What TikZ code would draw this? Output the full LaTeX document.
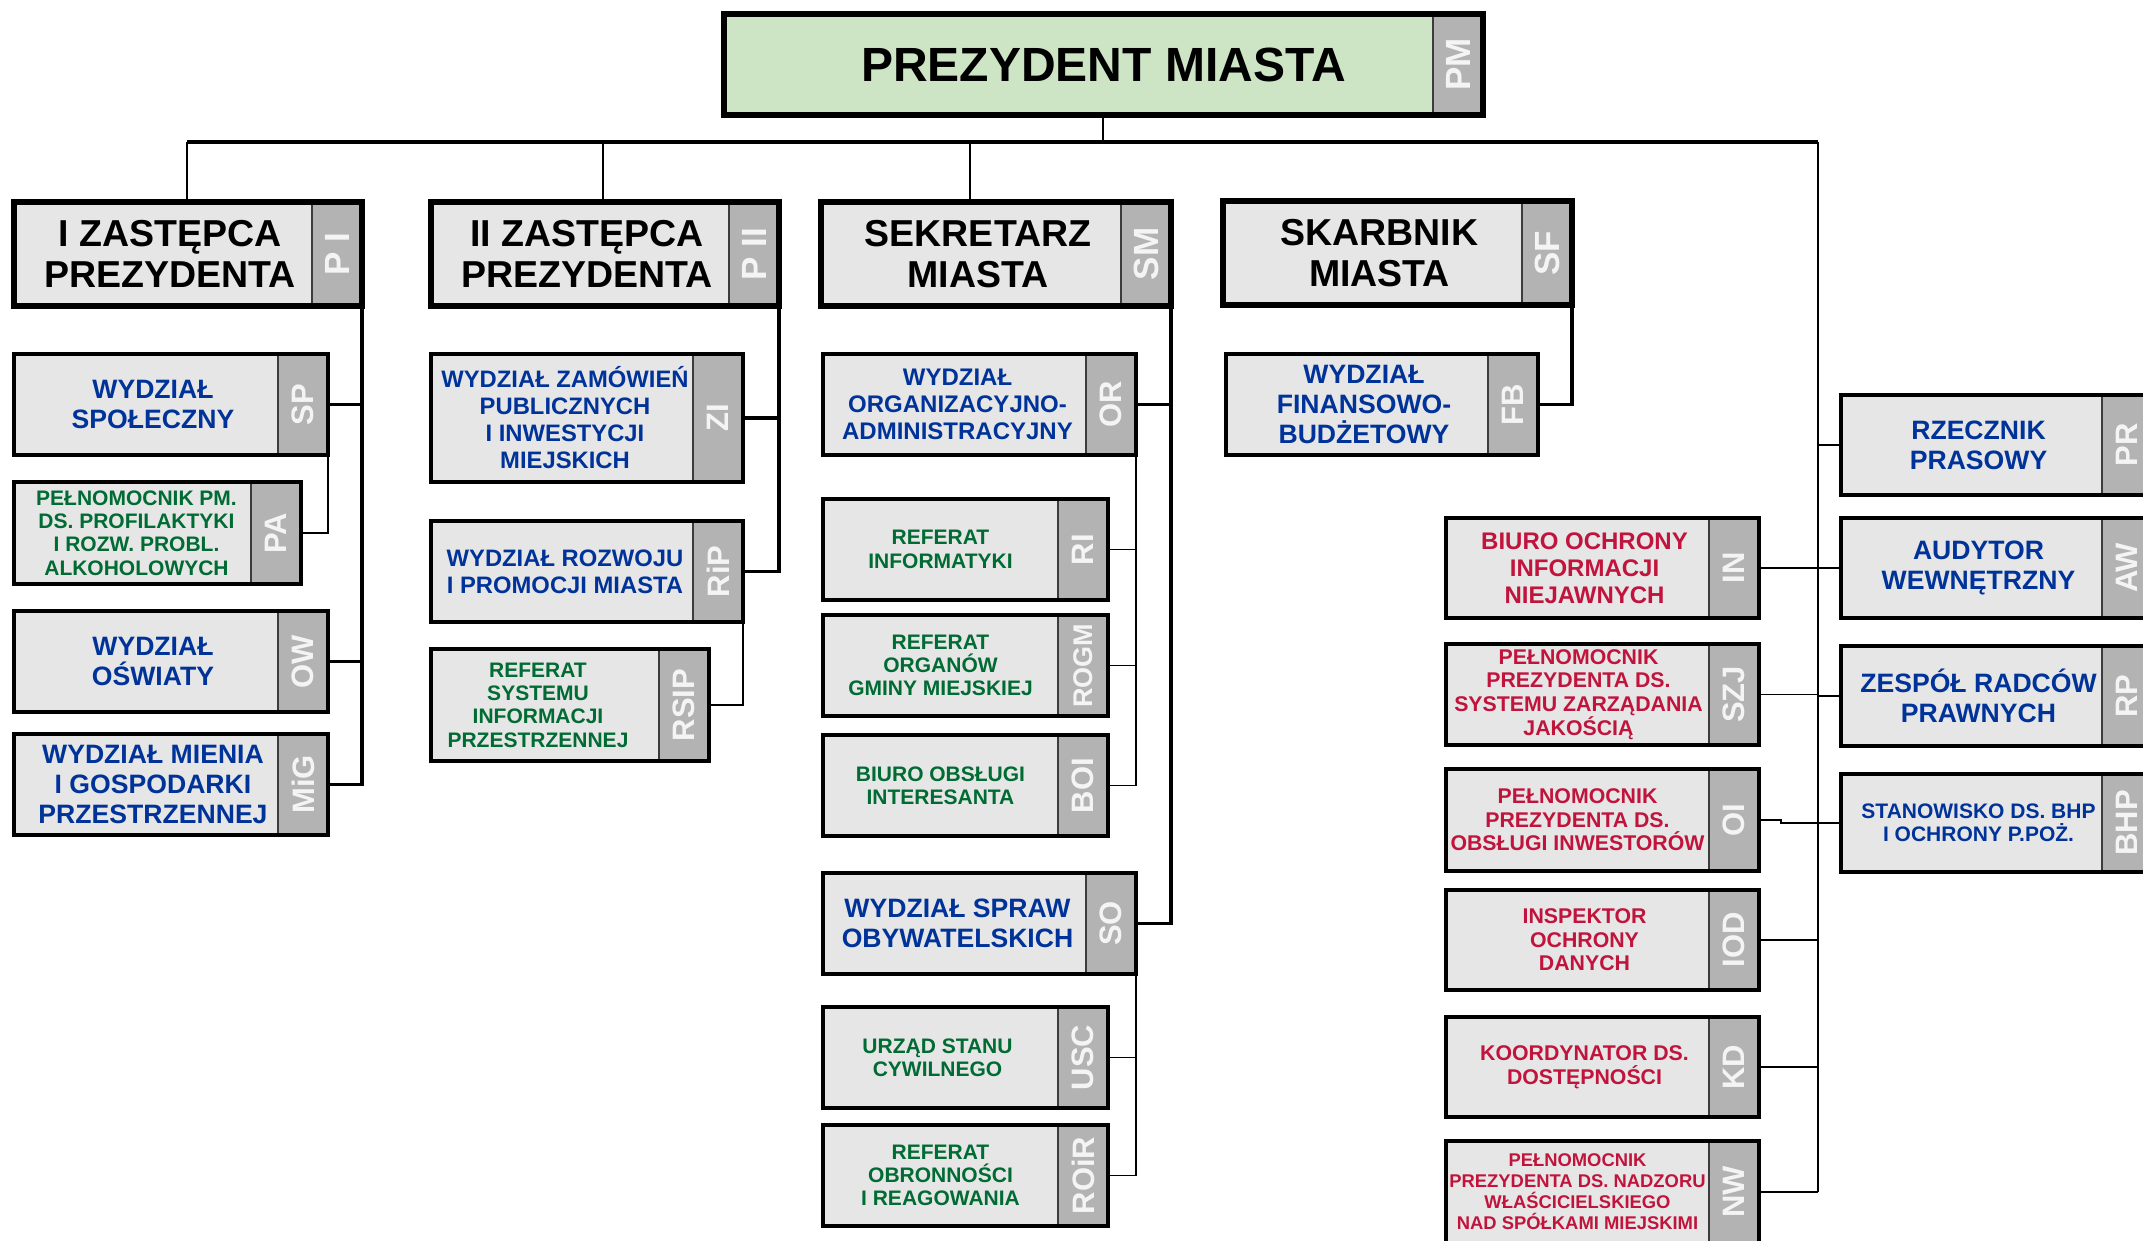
\documentclass[tikz,border=0pt]{standalone}
\usepackage{fontspec}
\setmainfont{Liberation Sans}
\usepackage{graphicx}

\definecolor{boxfill}{HTML}{E6E6E6}
\definecolor{tabgray}{HTML}{B3B3B3}
\definecolor{tabedge}{HTML}{3C3C3C}
\definecolor{tabwhite}{HTML}{F4F4F4}
\definecolor{pmgreen}{HTML}{CDE5C4}
\definecolor{deptblue}{HTML}{003399}
\definecolor{refgreen}{HTML}{006B33}
\definecolor{proxred}{HTML}{C0143C}

\tikzset{
  tshift/.store in=\tshift,
  unit/.style={fill=boxfill, inner sep=0pt, outer sep=0pt, align=center, line width=3.5pt, tshift=0pt},
  head/.style={unit, line width=6pt, text=black, font=\fontsize{37.5}{41}\selectfont\bfseries, tshift=7pt},
  dept/.style={unit, text=deptblue, font=\fontsize{26.6}{30}\selectfont\bfseries, tshift=7pt},
  office/.style={unit, text=refgreen, font=\fontsize{21}{23.3}\selectfont\bfseries},
  proxy/.style={unit, text=proxred, font=\fontsize{21.3}{23.6}\selectfont\bfseries, tshift=7pt},
  frame/.style={draw=black, fill=none},
  tab/.style={fill=tabgray, draw=tabedge, line width=1.5pt, inner sep=0pt, outer sep=0pt,
    minimum width=50pt, text=tabwhite, font=\fontsize{31}{31}\selectfont\bfseries},
  bus/.style={line width=3.5pt},
  drop/.style={line width=2.5pt},
  heavy/.style={line width=3.5pt},
  light/.style={line width=1.8pt}
}

% name, style, x1, y1, x2, y2, tab label, text
\newcommand{\orgunit}[8]{%
  \node[#2, anchor=north west, minimum width={(#5-#3-50)*1pt}, minimum height={(#6-#4)*1pt}] (#1) at (#3,#4) {};
  \node[#2, xshift=\tshift] (#1x) at (#1.center) {#8};
  \node[tab, anchor=north west, minimum height={(#6-#4)*1pt}] (#1t) at (#1.north east) {\rotatebox{90}{#7}};
  \draw[#2, frame] (#1.north west) rectangle (#1t.south east);
}
\newcommand{\tabbig}{\fontsize{35}{35}\selectfont}
\newcommand{\tabsmall}{\fontsize{27}{27}\selectfont}

\begin{document}
\begin{tikzpicture}[x=1pt,y=-1pt]
\useasboundingbox (0,0) rectangle (2143,1240);

% top
\orgunit{PM}{head, fill=pmgreen, font=\fontsize{48}{52}\selectfont\bfseries, tshift=25pt}{724}{14}{1483}{115}{\tabbig PM}{PREZYDENT MIASTA}

% deputies
\orgunit{PI}{head}{14}{202}{362}{306}{\tabbig P I}{I ZASTĘPCA\\PREZYDENTA}
\orgunit{PII}{head}{431}{202}{779}{306}{\tabbig P II}{II ZASTĘPCA\\PREZYDENTA}
\orgunit{SM}{head}{821}{202}{1171}{306}{\tabbig SM}{SEKRETARZ\\MIASTA}
\orgunit{SF}{head}{1223}{201}{1572}{305}{\tabbig SF}{SKARBNIK\\MIASTA}

% I zastepca
\orgunit{SP}{dept}{14}{354}{328}{455}{SP}{WYDZIAŁ\\SPOŁECZNY}
\orgunit{PA}{office, tshift=4pt}{14}{482}{301}{584}{PA}{PEŁNOMOCNIK PM.\\DS. PROFILAKTYKI\\I ROZW. PROBL.\\ALKOHOLOWYCH}
\orgunit{OW}{dept}{14}{611}{328}{712}{OW}{WYDZIAŁ\\OŚWIATY}
\orgunit{MiG}{dept}{14}{734}{328}{835}{MiG}{WYDZIAŁ MIENIA\\I GOSPODARKI\\PRZESTRZENNEJ}

% II zastepca
\orgunit{ZI}{dept, font=\fontsize{23.8}{27}\selectfont\bfseries, tshift=3pt}{431}{354}{743}{482}{ZI}{WYDZIAŁ ZAMÓWIEŃ\\PUBLICZNYCH\\I INWESTYCJI\\MIEJSKICH}
\orgunit{RiP}{dept, font=\fontsize{23.8}{27}\selectfont\bfseries, tshift=3pt}{431}{521}{743}{622}{RiP}{WYDZIAŁ ROZWOJU\\I PROMOCJI MIASTA}
\orgunit{RSIP}{office, tshift=-7pt}{431}{649}{709}{761}{RSIP}{REFERAT\\SYSTEMU\\INFORMACJI\\PRZESTRZENNEJ}

% sekretarz
\orgunit{OR}{dept, font=\fontsize{24}{27}\selectfont\bfseries, tshift=3pt}{823}{354}{1136}{455}{OR}{WYDZIAŁ\\ORGANIZACYJNO-\\ADMINISTRACYJNY}
\orgunit{RI}{office}{823}{499}{1108}{600}{RI}{REFERAT\\INFORMATYKI}
\orgunit{ROGM}{office}{823}{615}{1108}{716}{\tabsmall ROGM}{REFERAT\\ORGANÓW\\GMINY MIEJSKIEJ}
\orgunit{BOI}{office}{823}{735}{1108}{836}{BOI}{BIURO OBSŁUGI\\INTERESANTA}
\orgunit{SO}{dept, tshift=3pt}{823}{873}{1136}{974}{SO}{WYDZIAŁ SPRAW\\OBYWATELSKICH}
\orgunit{USC}{office, tshift=-3pt}{823}{1007}{1108}{1108}{USC}{URZĄD STANU\\CYWILNEGO}
\orgunit{ROiR}{office}{823}{1125}{1108}{1226}{ROiR}{REFERAT\\OBRONNOŚCI\\I REAGOWANIA}

% skarbnik
\orgunit{FB}{dept}{1226}{354}{1538}{455}{FB}{WYDZIAŁ\\FINANSOWO-\\BUDŻETOWY}

% right column
\orgunit{PR}{dept}{1841}{395}{2152}{495}{PR}{RZECZNIK\\PRASOWY}
\orgunit{AW}{dept}{1841}{518}{2152}{618}{AW}{AUDYTOR\\WEWNĘTRZNY}
\orgunit{RP}{dept}{1841}{646}{2152}{746}{RP}{ZESPÓŁ RADCÓW\\PRAWNYCH}
\orgunit{BHP}{dept, font=\fontsize{21}{23.5}\selectfont\bfseries}{1841}{774}{2152}{872}{BHP}{STANOWISKO DS. BHP\\I OCHRONY P.POŻ.}

% pelnomocnicy
\orgunit{IN}{proxy, font=\fontsize{24}{27}\selectfont\bfseries}{1446}{518}{1759}{618}{IN}{BIURO OCHRONY\\INFORMACJI\\NIEJAWNYCH}
\orgunit{SZJ}{proxy, tshift=1pt}{1446}{644}{1759}{745}{SZJ}{PEŁNOMOCNIK\\PREZYDENTA DS.\\SYSTEMU ZARZĄDANIA\\JAKOŚCIĄ}
\orgunit{OI}{proxy, tshift=0pt}{1446}{769}{1759}{871}{OI}{PEŁNOMOCNIK\\PREZYDENTA DS.\\OBSŁUGI INWESTORÓW}
\orgunit{IOD}{proxy}{1446}{890}{1759}{990}{IOD}{INSPEKTOR\\OCHRONY\\DANYCH}
\orgunit{KD}{proxy}{1446}{1017}{1759}{1117}{KD}{KOORDYNATOR DS.\\DOSTĘPNOŚCI}
\orgunit{NW}{proxy, font=\fontsize{18.4}{21}\selectfont\bfseries, tshift=0pt}{1446}{1141}{1759}{1243}{NW}{PEŁNOMOCNIK\\PREZYDENTA DS. NADZORU\\WŁAŚCICIELSKIEGO\\NAD SPÓŁKAMI MIEJSKIMI}

% bus
\coordinate (busL) at (187,142);
\coordinate (busPM) at (1103,142);
\coordinate (busPII) at (603,142);
\coordinate (busSM) at (970,142);
\coordinate (busR) at (1818,142);
\draw[bus] (busL) -- (busR);
\draw[drop] (PM.south -| busPM) -- (busPM);
\draw[drop] (busL) -- (busL |- PI.north);
\draw[drop] (busPII) -- (busPII |- PII.north);
\draw[drop] (busSM) -- (busSM |- SM.north);

% I zastepca
\draw[heavy] (PIt.south east) |- (MiGt.east);
\draw[heavy] (SPt.east) -- (SPt.east -| PIt.south east);
\draw[heavy] (OWt.east) -- (OWt.east -| PIt.south east);
\draw[light] (SPt.south east) |- (PAt.east);

% II zastepca
\draw[heavy] (PIIt.south east) |- (RiPt.east);
\draw[heavy] (ZIt.east) -- (ZIt.east -| PIIt.south east);
\draw[light] (RiPt.south east) |- (RSIPt.east);

% sekretarz
\draw[heavy] (SMt.south east) |- (SOt.east);
\draw[heavy] (ORt.east) -- (ORt.east -| SMt.south east);
\draw[light] (ORt.south east) |- (BOIt.east);
\draw[light] (RIt.east) -- (RIt.east -| ORt.south east);
\draw[light] (ROGMt.east) -- (ROGMt.east -| ORt.south east);
\draw[light] (SOt.south east) |- (ROiRt.east);
\draw[light] (USCt.east) -- (USCt.east -| SOt.south east);

% skarbnik
\draw[heavy] (SFt.south east) |- (FBt.east);

% right trunk
\draw[drop] (busR) -- (busR |- AW.west);
\draw[light] (busR |- AW.west) -- (busR |- NWt.east);
\draw[light] (PR.west) -- (PR.west -| busR);
\draw[light] (AW.west) -- (AW.west -| busR);
\draw[light] (RP.west) -- (RP.west -| busR);
\draw[light] (BHP.west) -- (BHP.west -| busR);
\draw[light] (INt.east) -- (INt.east -| busR);
\draw[light] (SZJt.east) -- (SZJt.east -| busR);
\draw[light] (OIt.east) -- ++(22,0) |- (BHP.west);
\draw[light] (IODt.east) -- (IODt.east -| busR);
\draw[light] (KDt.east) -- (KDt.east -| busR);
\draw[light] (NWt.east) -- (NWt.east -| busR);
\end{tikzpicture}
\end{document}
